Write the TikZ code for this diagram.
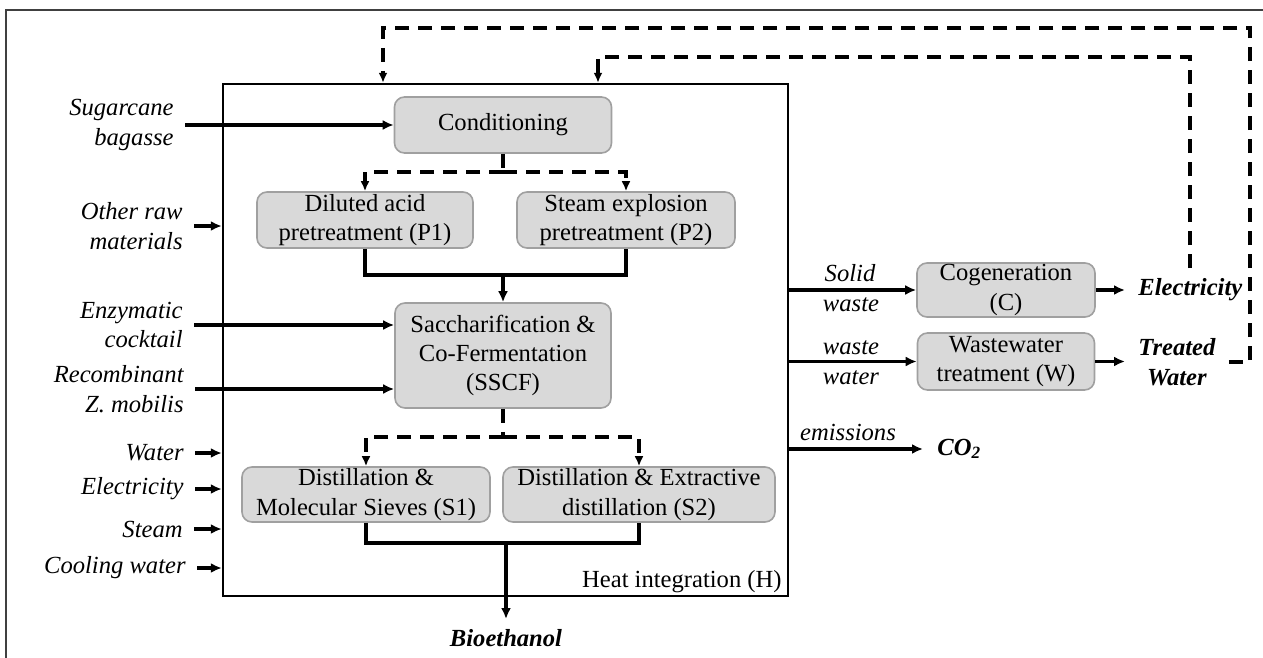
\documentclass[tikz,border=0pt]{standalone}
\usepackage{fontspec}
\setmainfont{Liberation Serif}
\usetikzlibrary{arrows.meta,fit}
\definecolor{boxfill}{HTML}{D9D9D9}
\definecolor{boxborder}{HTML}{A0A0A0}
\begin{document}
\begin{tikzpicture}[x=0.5pt,y=-0.5pt,
  every node/.style={font=\fontsize{12.3}{14.7}\selectfont},
  proc/.style={draw=boxborder, fill=boxfill, rounded corners=5pt, line width=0.8pt, align=center, inner sep=0pt},
  lbl/.style={font=\fontsize{12.3}{14.7}\selectfont\itshape, align=right, inner xsep=5.5pt, inner ysep=0pt},
  rlbl/.style={font=\fontsize{12.3}{14.7}\selectfont\itshape, align=center, inner sep=0pt},
  outlbl/.style={font=\fontsize{12.3}{14.7}\selectfont\bfseries\itshape, align=center, inner ysep=0pt},
  solidline/.style={line width=1.7pt},
  flow/.style={line width=1.7pt, -{Latex[length=5.5pt,width=5pt]}},
  fb/.style={line width=1.7pt, dash pattern=on 7pt off 4.5pt},
  fbtip/.style={-{Latex[length=5pt,width=4.5pt]}}
]
\useasboundingbox (0,0) rectangle (1263,658);
\clip (0,0) rectangle (1263,658);
% outer frame
\draw[line width=0.9pt, black!75] (6,670) -- (6,10) -- (1275,10);

% main box
\coordinate (mNW) at (223,84);
\coordinate (mSE) at (788,596);
\node[fit=(mNW)(mSE), inner sep=0pt, draw, line width=1.2pt] (main) {};
\node[anchor=base east, inner sep=0pt] (heat) at (782,587) {Heat integration (H)};

% process boxes
\node[proc, minimum width=108.5pt, minimum height=28pt] (cond) at (503,125) {Conditioning};
\node[proc, minimum width=108pt, minimum height=28pt] (p1) at (365,220) {Diluted acid\\pretreatment (P1)};
\node[proc, minimum width=109pt, minimum height=28pt] (p2) at (626,220) {Steam explosion\\pretreatment (P2)};
\node[proc, minimum width=108pt, minimum height=52.5pt] (sscf) at (503,355.5) {Saccharification \&\\Co-Fermentation\\(SSCF)};
\node[proc, minimum width=124pt, minimum height=27.5pt] (sd1) at (366,494.5) {Distillation \&\\Molecular Sieves (S1)};
\node[proc, minimum width=136pt, minimum height=27.5pt] (sd2) at (639,494.5) {Distillation \& Extractive\\distillation (S2)};
\node[proc, minimum width=89pt, minimum height=27pt] (cog) at (1006,290) {Cogeneration\\(C)};
\node[proc, minimum width=88.5pt, minimum height=28.5pt] (ww) at (1006,361.5) {Wastewater\\treatment (W)};

% input labels
\node[lbl, anchor=east] (sb) at (185,125) {Sugarcane\\bagasse};
\node[lbl, anchor=east] (orm) at (194,226) {Other raw\\materials};
\node[lbl, anchor=east] (enz) at (194,325) {Enzymatic\\cocktail};
\node[lbl, anchor=east] (rzm) at (195,389) {Recombinant\\Z. mobilis};
\node[lbl, anchor=east] (wat) at (195,453) {Water};
\node[lbl, anchor=east] (ele) at (195,489) {Electricity};
\node[lbl, anchor=east] (stm) at (194,529) {Steam};
\node[lbl, anchor=east] (cw) at (197,568) {Cooling water};

\draw[flow] (sb.east) -- (sb.east -| cond.west);
\draw[flow] (orm.east) -- (orm.east -| main.west);
\draw[flow] (enz.east) -- (enz.east -| sscf.west);
\draw[flow] (rzm.east) -- (rzm.east -| sscf.west);
\draw[flow] (wat.east) -- (wat.east -| main.west);
\draw[flow] (ele.east) -- (ele.east -| main.west);
\draw[flow] (stm.east) -- (stm.east -| main.west);
\draw[flow] (cw.east) -- (cw.east -| main.west);

% conditioning split
\coordinate (sp1) at (503,172);
\draw[fb] (cond.south) -- (sp1);
\draw[fb, fbtip] (sp1) -| (p1.north);
\draw[fb, fbtip] (sp1) -| (p2.north);

% pretreatment merge
\coordinate (m1) at (503,275);
\draw[solidline] (p1.south) |- (m1) -| (p2.south);
\draw[flow] (m1) -- (sscf.north);

% SSCF split
\coordinate (sp2) at (503,437);
\draw[fb] (sscf.south) -- (sp2);
\draw[fb, fbtip] (sp2) -| (sd1.north);
\draw[fb, fbtip] (sp2) -| (sd2.north);

% separation merge
\node[outlbl, anchor=north, inner ysep=5pt] (bio) at (506,619) {Bioethanol};
\coordinate (m2) at (506,543);
\draw[solidline] (sd1.south) |- (m2) -| (sd2.south);
\draw[flow] (m2) -- (bio.north);

% right side
\node[rlbl] (lsolid) at (850,273) {Solid};
\node[rlbl] (lwaste) at (851,305) {waste};
\node[rlbl] (lwaste2) at (851,348) {waste};
\node[rlbl] (lwater) at (851,378) {water};
\node[rlbl] (lemi) at (848,432) {emissions};

\draw[flow] (main.east |- cog.west) -- (cog.west);
\draw[flow] (main.east |- ww.west) -- (ww.west);

\node[outlbl, anchor=west, inner xsep=6.5pt] (elec) at (1125,290) {Electricity};
\node[outlbl, anchor=west, inner xsep=6.5pt] (tw) at (1125,362) {Treated\\Water};
\node[outlbl, anchor=west, inner xsep=7pt] (co2) at (923,449) {CO\textsubscript{2}};

\draw[flow] (cog.east) -- (cog.east -| elec.west);
\draw[flow] (ww.east) -- (ww.east -| tw.west);
\draw[flow] (main.east |- co2.west) -- (co2.west);

% feedback loops
\coordinate (o1) at (1250,28);
\coordinate (o2) at (383,28);
\draw[fb, fbtip] (tw.east) -| (o1) -- (o2) -- (o2 |- main.north);

\coordinate (i0) at (1190,268);
\coordinate (i1) at (1190,57);
\coordinate (i2) at (598,57);
\draw[fb, fbtip] (i0) -- (i1) -- (i2) -- (i2 |- main.north);
\end{tikzpicture}
\end{document}
